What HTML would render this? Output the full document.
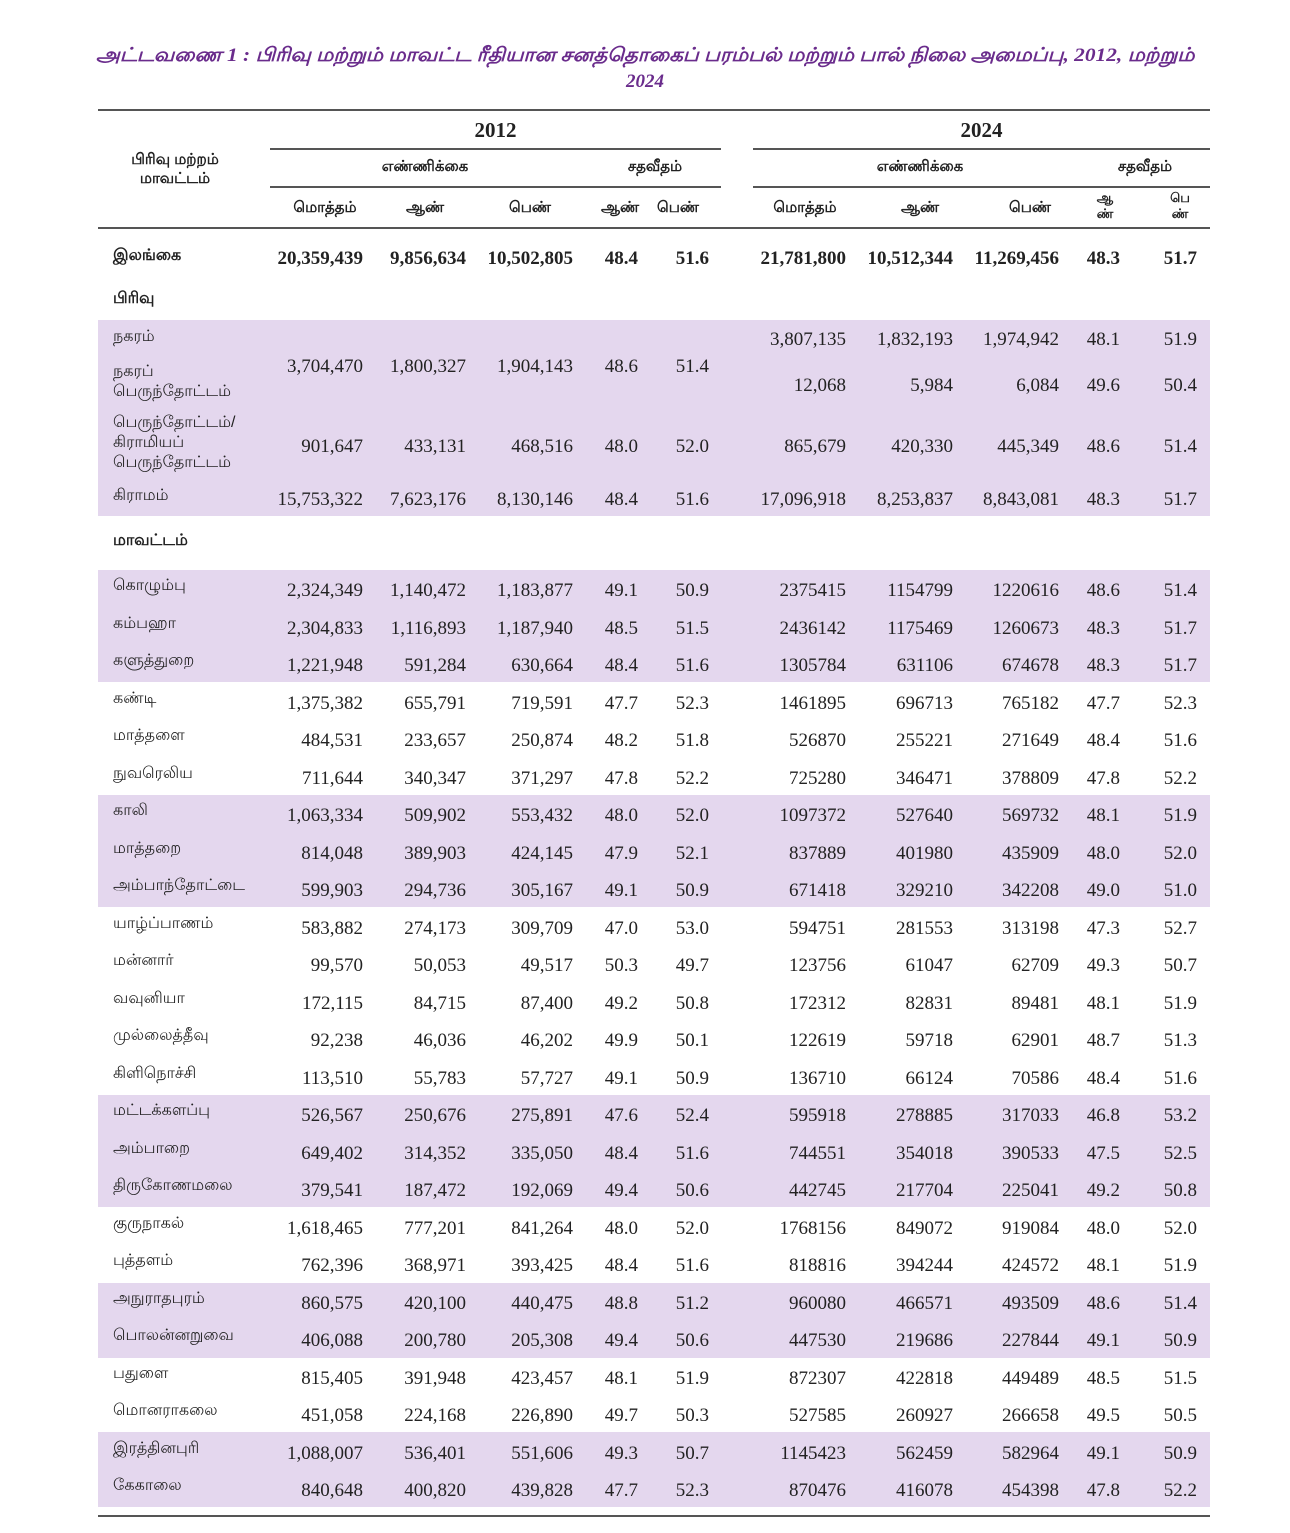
<!DOCTYPE html>
<html><head><meta charset="utf-8">
<style>
body{margin:0;background:#fff;}
#p{position:relative;width:1290px;height:1533px;overflow:hidden;background:#fff;font-family:"Liberation Serif",serif;color:#222;}
.a{position:absolute;white-space:nowrap;}
.t{position:absolute;left:0;width:1290px;text-align:center;color:#6a2c8c;font-style:italic;font-weight:bold;font-size:19px;font-family:"Liberation Serif",serif;}
.t span{display:inline-block;transform:scaleX(1.125);transform-origin:center;}
.ln{position:absolute;height:2px;background:#555;}
.bd{position:absolute;left:98px;width:1112px;background:#e4d7ee;}
.c{position:absolute;width:110px;text-align:right;font-size:19px;line-height:24px;}
.lb{position:absolute;left:113px;font-size:16px;font-family:"Liberation Sans",sans-serif;line-height:20px;}
.h{position:absolute;font-family:"Liberation Sans",sans-serif;font-size:15px;font-weight:bold;text-align:center;}
</style></head><body><div id="p">
<div class="t" style="top:45px"><span>அட்டவணை 1 : பிரிவு மற்றும் மாவட்ட ரீதியான சனத்தொகைப் பரம்பல் மற்றும் பால் நிலை அமைப்பு, 2012, மற்றும்</span></div>
<div class="t" style="top:71px">2024</div>

<div class="ln" style="left:98px;width:1112px;top:109px"></div>
<div class="ln" style="left:270px;width:451px;top:148px"></div>
<div class="ln" style="left:753px;width:457px;top:148px"></div>
<div class="ln" style="left:270px;width:451px;top:186px"></div>
<div class="ln" style="left:753px;width:457px;top:186px"></div>
<div class="ln" style="left:98px;width:1112px;top:227px"></div>
<div class="ln" style="left:98px;width:1112px;top:1515px"></div>

<div class="a" style="left:270px;width:451px;top:118px;text-align:center;font-size:21px;font-weight:bold">2012</div>
<div class="a" style="left:753px;width:457px;top:118px;text-align:center;font-size:21px;font-weight:bold">2024</div>
<div class="h" style="left:110px;width:130px;top:150px;line-height:19px">பிரிவு மற்றம்<br>மாவட்டம்</div>
<div class="h" style="left:300px;width:250px;top:158px">எண்ணிக்கை</div>
<div class="h" style="left:590px;width:130px;top:158px">சதவீதம்</div>
<div class="h" style="left:780px;width:280px;top:158px">எண்ணிக்கை</div>
<div class="h" style="left:1080px;width:130px;top:158px">சதவீதம்</div>
<div class="h" style="left:280px;width:90px;top:199px">மொத்தம்</div>
<div class="h" style="left:385px;width:80px;top:199px">ஆண்</div>
<div class="h" style="left:490px;width:80px;top:199px">பெண்</div>
<div class="h" style="left:590px;width:60px;top:199px">ஆண்</div>
<div class="h" style="left:648px;width:60px;top:199px">பெண்</div>
<div class="h" style="left:760px;width:90px;top:199px">மொத்தம்</div>
<div class="h" style="left:880px;width:80px;top:199px">ஆண்</div>
<div class="h" style="left:990px;width:80px;top:199px">பெண்</div>
<div class="h" style="left:1085px;width:40px;top:190px;font-size:13px;line-height:16px">ஆ<br>ண்</div>
<div class="h" style="left:1160px;width:40px;top:190px;font-size:13px;line-height:16px">பெ<br>ண்</div>

<div class="bd" style="top:320px;height:196px"></div>
<div class="bd" style="top:570px;height:112px"></div>
<div class="bd" style="top:795px;height:112px"></div>
<div class="bd" style="top:1095px;height:112px"></div>
<div class="bd" style="top:1283px;height:75px"></div>
<div class="bd" style="top:1432px;height:75px"></div>

<script>
var R2=[363,466,573,638,709],R4=[846,953,1059,1120,1197];
var P=document.getElementById('p');
function cells(y,vals,rs,bold){y+=2;for(var i=0;i<vals.length;i++){if(vals[i]==null)continue;var d=document.createElement('div');d.className='c';d.style.left=(rs[i]-110)+'px';d.style.top=(y-12)+'px';if(bold)d.style.fontWeight='bold';d.textContent=vals[i];P.appendChild(d);}}
function lab(y,t,bold,lines){var d=document.createElement('div');d.className='lb';d.style.top=(y-10*(lines||1)-1)+'px';if(bold)d.style.fontWeight='bold';d.innerHTML=t;P.appendChild(d);}
lab(257,'இலங்கை',1);cells(257,['20,359,439','9,856,634','10,502,805','48.4','51.6'],R2,1);cells(257,['21,781,800','10,512,344','11,269,456','48.3','51.7'],R4,1);
lab(300,'பிரிவு',1);
lab(338,'நகரம்');cells(338,['3,807,135','1,832,193','1,974,942','48.1','51.9'],R4);
cells(365,['3,704,470','1,800,327','1,904,143','48.6','51.4'],R2);
lab(383,'நகரப்<br>பெருந்தோட்டம்',0,2);cells(384,['12,068','5,984','6,084','49.6','50.4'],R4);
lab(444,'பெருந்தோட்டம்/<br>கிராமியப்<br>பெருந்தோட்டம்',0,3);cells(445,['901,647','433,131','468,516','48.0','52.0'],R2);cells(445,['865,679','420,330','445,349','48.6','51.4'],R4);
lab(497,'கிராமம்');cells(498,['15,753,322','7,623,176','8,130,146','48.4','51.6'],R2);cells(498,['17,096,918','8,253,837','8,843,081','48.3','51.7'],R4);
lab(542,'மாவட்டம்',1);
var D=[
['கொழும்பு','2,324,349','1,140,472','1,183,877','49.1','50.9','2375415','1154799','1220616','48.6','51.4'],
['கம்பஹா','2,304,833','1,116,893','1,187,940','48.5','51.5','2436142','1175469','1260673','48.3','51.7'],
['களுத்துறை','1,221,948','591,284','630,664','48.4','51.6','1305784','631106','674678','48.3','51.7'],
['கண்டி','1,375,382','655,791','719,591','47.7','52.3','1461895','696713','765182','47.7','52.3'],
['மாத்தளை','484,531','233,657','250,874','48.2','51.8','526870','255221','271649','48.4','51.6'],
['நுவரெலிய','711,644','340,347','371,297','47.8','52.2','725280','346471','378809','47.8','52.2'],
['காலி','1,063,334','509,902','553,432','48.0','52.0','1097372','527640','569732','48.1','51.9'],
['மாத்தறை','814,048','389,903','424,145','47.9','52.1','837889','401980','435909','48.0','52.0'],
['அம்பாந்தோட்டை','599,903','294,736','305,167','49.1','50.9','671418','329210','342208','49.0','51.0'],
['யாழ்ப்பாணம்','583,882','274,173','309,709','47.0','53.0','594751','281553','313198','47.3','52.7'],
['மன்னார்','99,570','50,053','49,517','50.3','49.7','123756','61047','62709','49.3','50.7'],
['வவுனியா','172,115','84,715','87,400','49.2','50.8','172312','82831','89481','48.1','51.9'],
['முல்லைத்தீவு','92,238','46,036','46,202','49.9','50.1','122619','59718','62901','48.7','51.3'],
['கிளிநொச்சி','113,510','55,783','57,727','49.1','50.9','136710','66124','70586','48.4','51.6'],
['மட்டக்களப்பு','526,567','250,676','275,891','47.6','52.4','595918','278885','317033','46.8','53.2'],
['அம்பாறை','649,402','314,352','335,050','48.4','51.6','744551','354018','390533','47.5','52.5'],
['திருகோணமலை','379,541','187,472','192,069','49.4','50.6','442745','217704','225041','49.2','50.8'],
['குருநாகல்','1,618,465','777,201','841,264','48.0','52.0','1768156','849072','919084','48.0','52.0'],
['புத்தளம்','762,396','368,971','393,425','48.4','51.6','818816','394244','424572','48.1','51.9'],
['அநுராதபுரம்','860,575','420,100','440,475','48.8','51.2','960080','466571','493509','48.6','51.4'],
['பொலன்னறுவை','406,088','200,780','205,308','49.4','50.6','447530','219686','227844','49.1','50.9'],
['பதுளை','815,405','391,948','423,457','48.1','51.9','872307','422818','449489','48.5','51.5'],
['மொனராகலை','451,058','224,168','226,890','49.7','50.3','527585','260927','266658','49.5','50.5'],
['இரத்தினபுரி','1,088,007','536,401','551,606','49.3','50.7','1145423','562459','582964','49.1','50.9'],
['கேகாலை','840,648','400,820','439,828','47.7','52.3','870476','416078','454398','47.8','52.2']];
for(var i=0;i<D.length;i++){var y=589+37.5*i;lab(y-2,D[i][0]);cells(y,D[i].slice(1,6),R2);cells(y,D[i].slice(6,11),R4);}
</script>
</div></body></html>
